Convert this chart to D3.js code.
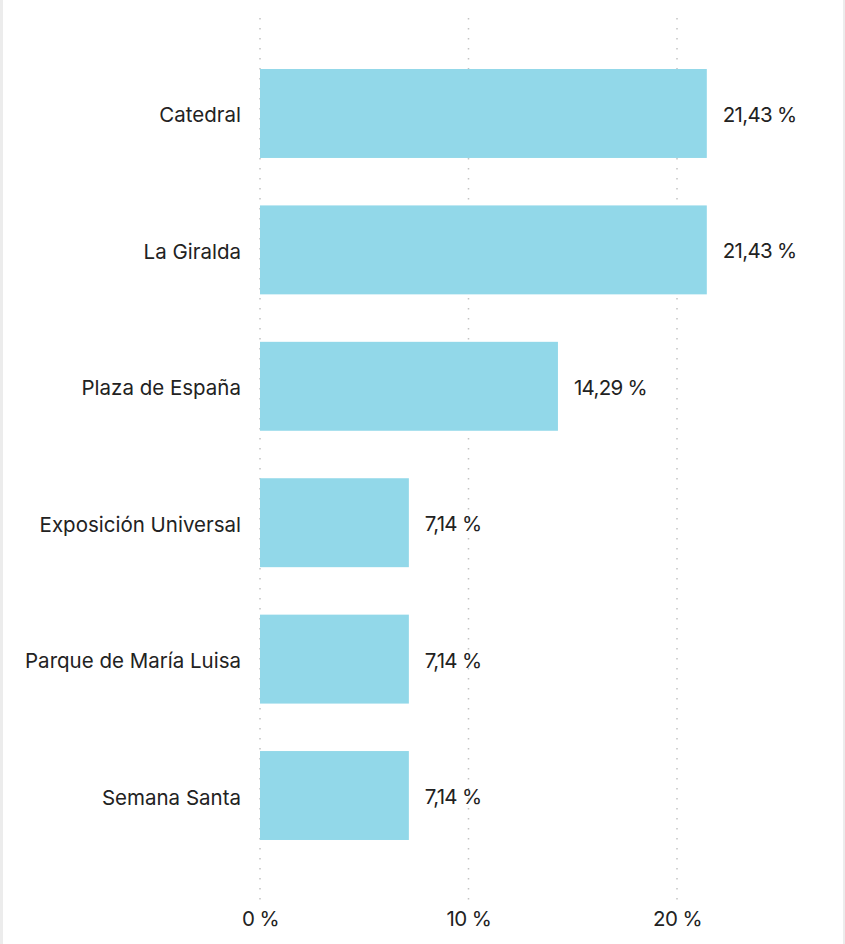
<!DOCTYPE html>
<html><head><meta charset="utf-8">
<script src="https://cdn.jsdelivr.net/npm/d3@7"></script>
<style>
html,body{margin:0;padding:0;background:#fff;}
svg{display:block;}
</style></head><body>
<svg id="c" width="845" height="944"></svg>
<script>
const categories = ["Catedral","La Giralda","Plaza de España","Exposición Universal","Parque de María Luisa","Semana Santa"];
const values = [21.43,21.43,14.29,7.14,7.14,7.14];
const valueLabels = ["21,43 %","21,43 %","14,29 %","7,14 %","7,14 %","7,14 %"];
const ticks = [0,10,20];
const tickLabels = ["0 %","10 %","20 %"];

const W=845,H=944;
const svg=d3.select("#c");
svg.append("rect").attr("x",0).attr("y",0).attr("width",W).attr("height",H).attr("fill","#ececec");
svg.append("rect").attr("x",3).attr("y",0).attr("width",W-5).attr("height",H).attr("fill","#fff");

const x=d3.scaleLinear().domain([0,10]).range([260,468.5]);
const y=d3.scaleBand().domain(categories).range([18,891]).paddingInner(0.348).paddingOuter(0.374);
const font="Inter, 'Noto Sans', sans-serif";

const g=svg.append("g");
g.selectAll("line.grid").data(ticks).join("line").attr("class","grid")
 .attr("x1",d=>x(d)).attr("x2",d=>x(d)).attr("y1",18).attr("y2",900)
 .attr("stroke","#c4c4c4").attr("stroke-width",1.5).attr("stroke-dasharray","1.5 8.5");

g.selectAll("rect.bar").data(values).join("rect").attr("class","bar")
 .attr("x",x(0)).attr("y",(d,i)=>y(categories[i])).attr("width",d=>x(d)-x(0)).attr("height",y.bandwidth())
 .attr("fill","#92d8e9");

g.selectAll("text.cat").data(categories).join("text").attr("class","cat")
 .attr("x",241).attr("y",d=>y(d)+y.bandwidth()/2+9).attr("text-anchor","end")
 .attr("font-family",font).attr("font-size",20.5).attr("fill","#222").text(d=>d);

g.selectAll("text.val").data(values).join("text").attr("class","val")
 .attr("x",d=>x(d)+16).attr("y",(d,i)=>y(categories[i])+y.bandwidth()/2+8.5)
 .attr("font-family",font).attr("font-size",20.5).attr("letter-spacing",-0.7).attr("fill","#222").text((d,i)=>valueLabels[i]);

g.selectAll("text.tick").data(ticks).join("text").attr("class","tick")
 .attr("x",d=>x(d)+0.5).attr("y",926).attr("text-anchor","middle")
 .attr("font-family",font).attr("font-size",20.5).attr("letter-spacing",-0.6).attr("fill","#222").text((d,i)=>tickLabels[i]);
</script></body></html>
